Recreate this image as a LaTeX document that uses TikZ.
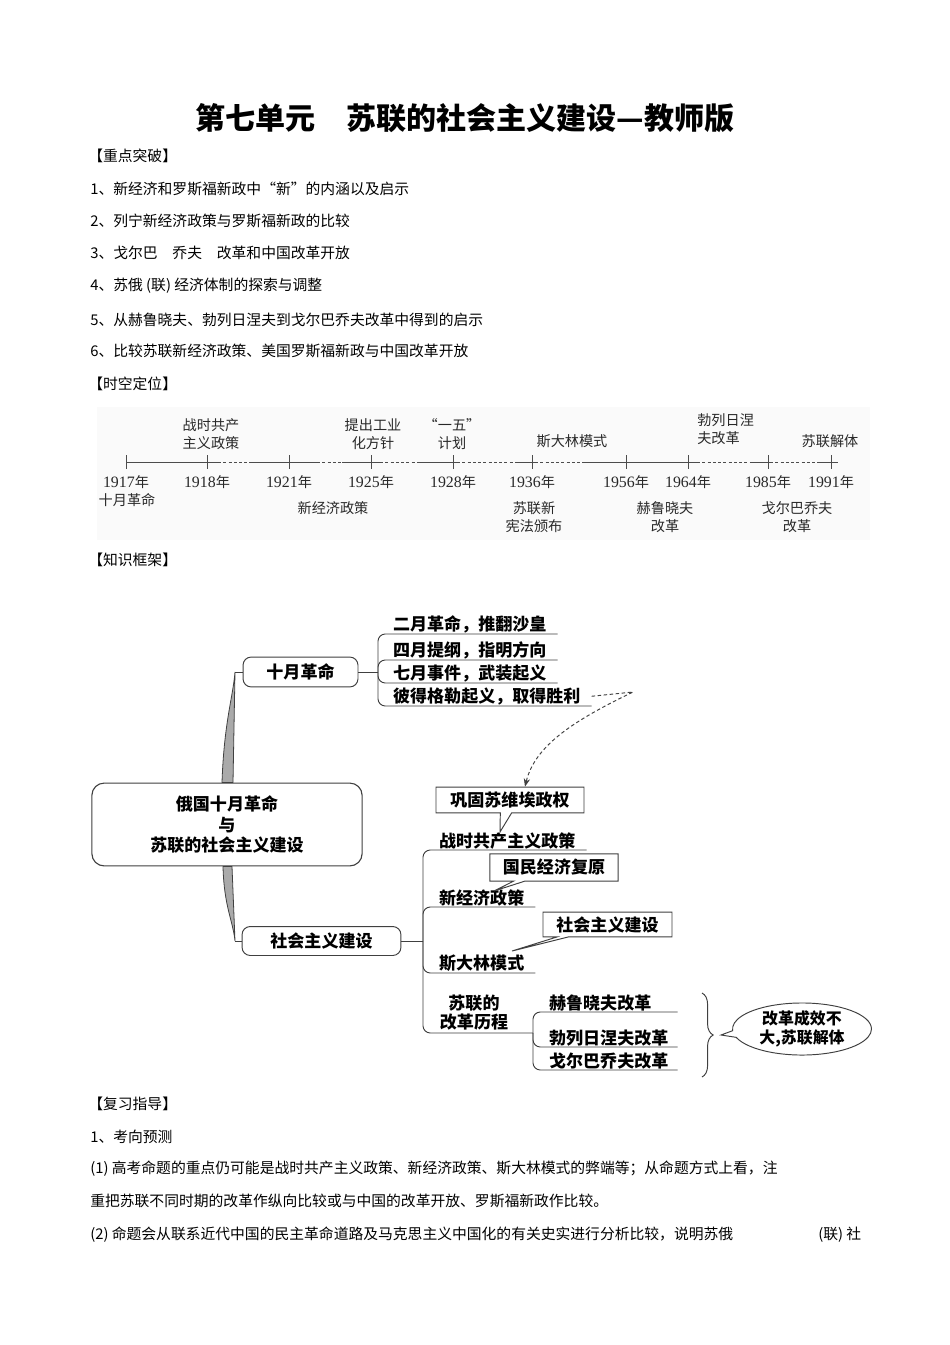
\documentclass[tikz,border=0pt]{standalone}
\usepackage{fontspec}
\setmainfont{Noto Sans CJK SC}
\newfontfamily\yrfont{Liberation Serif}[Scale=1.12]
\usepackage{tikz}
\usetikzlibrary{arrows.meta,calc,shapes.geometric,shapes.callouts,decorations.pathreplacing}
\definecolor{ink}{RGB}{40,40,40}
\definecolor{wedgegray}{RGB}{170,170,170}
\newcommand{\yr}[1]{{\yrfont #1}年}

\begin{document}
\begin{tikzpicture}[x=0.0221cm, y=-0.0221cm,
  body/.style={anchor=west, inner sep=0pt, font=\fontsize{9.3}{11}\selectfont},
  tl/.style={align=center, inner sep=0pt, text=ink, font=\fontsize{8.9}{11.3}\selectfont},
  tline/.style={draw=black!70, line width=0.6pt},
  hub/.style={rectangle, rounded corners=2.7mm, draw=black!75, line width=0.7pt, align=center,
              minimum width=5.97cm, minimum height=1.83cm, inner sep=0pt,
              font=\bfseries\fontsize{10.7}{12.6}\selectfont},
  topic/.style={rectangle, rounded corners=1.8mm, draw=black!75, line width=0.6pt,
                inner sep=0pt, font=\bfseries\fontsize{10.7}{12.6}\selectfont},
  leaf/.style={anchor=south west, inner xsep=0.24cm, inner ysep=0.5pt,
               font=\bfseries\fontsize{10.7}{12.6}\selectfont},
  note/.style={rectangle callout, draw=black!75, line width=0.6pt, fill=white, inner sep=0pt,
               callout pointer width=0.25cm, font=\bfseries\fontsize{10.7}{12.6}\selectfont},
  branch/.style={draw=black!75, line width=0.6pt, rounded corners=1.6mm},
  wedge/.style={fill=wedgegray, draw=black!75, line width=0.5pt}]

  \fill[white] (0,0) rectangle (950,1345);
  \useasboundingbox (0,0) rectangle (950,1345);

  % title and key points
  \node[inner sep=0pt, font=\bfseries\fontsize{18.9}{22}\selectfont] (title) at (465,118)
    {第七单元　苏联的社会主义建设—教师版};
  \node[body] (h1) at (88,156) {【重点突破】};
  \node[body] (k1) at (90,189) {1、新经济和罗斯福新政中“新”的内涵以及启示};
  \node[body] (k2) at (90,221) {2、列宁新经济政策与罗斯福新政的比较};
  \node[body] (k3) at (90,253) {3、戈尔巴　乔夫　改革和中国改革开放};
  \node[body] (k4) at (90,286) {4、苏俄 (联) 经济体制的探索与调整};
  \node[body] (k5) at (90,320) {5、从赫鲁晓夫、勃列日涅夫到戈尔巴乔夫改革中得到的启示};
  \node[body] (k6) at (90,351) {6、比较苏联新经济政策、美国罗斯福新政与中国改革开放};
  \node[body] (h2) at (88,384) {【时空定位】};

  % timeline
  \fill[black!2] (97,407) rectangle (870,540);
  \foreach \a/\b in {126/218, 252/317, 342/380, 420/457, 518/535, 583/697, 750/770, 817/838}
    \draw[tline] (\a,462) -- (\b,462);
  \foreach \a/\b in {218/252, 317/342, 380/420, 457/518, 535/583, 697/750, 770/817}
    \draw[tline, dash pattern=on 2pt off 1.3pt] (\a,462) -- (\b,462);
  \foreach \x/\yy in {126/1917, 207/1918, 289/1921, 371/1925, 453/1928,
                      532/1936, 626/1956, 688/1964, 768/1985, 831/1991} {
    \draw[tline] (\x,455) -- (\x,469);
    \node[tl] (y\yy) at (\x,482) {\yr{\yy}};
  }
  \node[tl] (wcom) at (211,434) {战时共产\\主义政策};
  \node[tl] (indu) at (373,434) {提出工业\\化方针};
  \node[tl] (fyp) at (452,434) {“一五”\\计划};
  \node[tl] (stal) at (572,441) {斯大林模式};
  \node[tl, anchor=west, align=left] (brez) at (697,429) {勃列日涅\\夫改革};
  \node[tl] (diss) at (830,441) {苏联解体};
  \node[tl] (octr) at (127,500) {十月革命};
  \node[tl] (nep) at (333,508) {新经济政策};
  \node[tl] (cons) at (534,517) {苏联新\\宪法颁布};
  \node[tl] (khru) at (665,517) {赫鲁晓夫\\改革};
  \node[tl] (gorb) at (797,517) {戈尔巴乔夫\\改革};

  \node[body] (h3) at (88,560) {【知识框架】};

  % mind map
  \node[hub] (root) at (227,824.5) {俄国十月革命\\与\\苏联的社会主义建设};
  \node[topic, minimum width=2.54cm, minimum height=0.66cm] (oct) at (300.5,672) {十月革命};
  \node[topic, minimum width=3.51cm, minimum height=0.64cm] (soc) at (321.5,941) {社会主义建设};

  \coordinate (octin) at (235,672);
  \coordinate (socin) at (235,941);
  \filldraw[wedge] ($(root.north)+(-5,0)$) .. controls +(2,-60) and +(-2,25) .. (octin)
    -- ($(root.north)+(6,0)$) -- cycle;
  \draw[branch] (octin) -- (oct.west);
  \filldraw[wedge] ($(root.south)+(-4,0)$) .. controls +(1,40) and +(-2,-20) .. (socin)
    -- ($(root.south)+(5,0)$) -- cycle;
  \draw[branch] (socin) -- (soc.west);

  \coordinate (j1) at (378,672);
  \node[leaf] (f1) at (382,634) {二月革命，推翻沙皇};
  \node[leaf] (f2) at (382,660) {四月提纲，指明方向};
  \node[leaf] (f3) at (382,683) {七月事件，武装起义};
  \node[leaf] (f4) at (382,706) {彼得格勒起义，取得胜利};
  \draw[branch] (oct.east) -- (j1);
  \foreach \n in {f1,f2,f3,f4}
    \draw[branch] (j1) |- (\n.south east);

  \coordinate (j2) at (423,941);
  \coordinate (j3) at (533,1033);
  \node[leaf] (p1) at (428,850) {战时共产主义政策};
  \node[leaf] (p2) at (428,907) {新经济政策};
  \node[leaf] (p3) at (428,973) {斯大林模式};
  \node[align=center, inner sep=0pt, font=\bfseries\fontsize{10.7}{12}\selectfont] (p4)
    at (474,1012.5) {苏联的\\改革历程};
  \draw[branch] (soc.east) -- (j2);
  \foreach \n in {p1,p2,p3}
    \draw[branch] (j2) |- (\n.south east);
  \draw[branch] (j2) |- (j3);

  \node[leaf, text width=2.59cm] (r1) at (538,1012) {赫鲁晓夫改革};
  \node[leaf, text width=2.59cm] (r2) at (538,1047) {勃列日涅夫改革};
  \node[leaf, text width=2.59cm] (r3) at (538,1070) {戈尔巴乔夫改革};
  \foreach \n in {r1,r2,r3}
    \draw[branch] (j3) |- (\n.south east);

  % callouts
  \coordinate (tip1) at (500,832);
  \coordinate (tip2) at (494,891);
  \coordinate (tip3) at (512,951);
  \node[note, minimum width=3.27cm, minimum height=0.57cm, callout absolute pointer={(tip1)}]
    (keep) at (510,800) {巩固苏维埃政权};
  \node[note, minimum width=2.83cm, minimum height=0.6cm, callout absolute pointer={(tip2)}]
    (reco) at (554,867.5) {国民经济复原};
  \node[note, minimum width=2.85cm, minimum height=0.55cm, callout absolute pointer={(tip3)}]
    (build) at (607.5,924.5) {社会主义建设};

  \coordinate (turn) at (633,692);
  \coordinate (keepin) at ($(keep.north)+(15,0)$);
  \draw[black!75, line width=0.6pt, dash pattern=on 2.2pt off 1.6pt,
        -{Stealth[length=1.8mm,width=1.4mm]}]
    (f4.east) -- (turn) .. controls (575,720) and (535,745) .. (keepin);

  % result
  \coordinate (br1) at (702,993);
  \coordinate (br2) at (702,1077);
  \draw[black!75, line width=0.6pt, decorate, decoration={brace, amplitude=7pt}] (br1) -- (br2);
  \coordinate (tip4) at (721,1035);
  \node[ellipse callout, draw=black!75, line width=0.6pt, fill=white, inner sep=0pt,
        minimum width=3.07cm, minimum height=1.15cm, align=center,
        callout absolute pointer={(tip4)}, font=\bfseries\fontsize{10}{12}\selectfont]
    (res) at (802,1029) {改革成效不\\大,苏联解体};

  % review guide
  \node[body] (h4) at (88,1104) {【复习指导】};
  \node[body] (g1) at (90,1137) {1、考向预测};
  \node[body] (g2) at (90,1169)
    {(1) 高考命题的重点仍可能是战时共产主义政策、新经济政策、斯大林模式的弊端等；从命题方式上看，注};
  \node[body] (g3) at (90,1201) {重把苏联不同时期的改革作纵向比较或与中国的改革开放、罗斯福新政作比较。};
  \node[body] (g4) at (90,1235)
    {(2) 命题会从联系近代中国的民主革命道路及马克思主义中国化的有关史实进行分析比较，说明苏俄};
  \node[body] (g5) at (818,1235) {(联) 社};
\end{tikzpicture}
\end{document}
